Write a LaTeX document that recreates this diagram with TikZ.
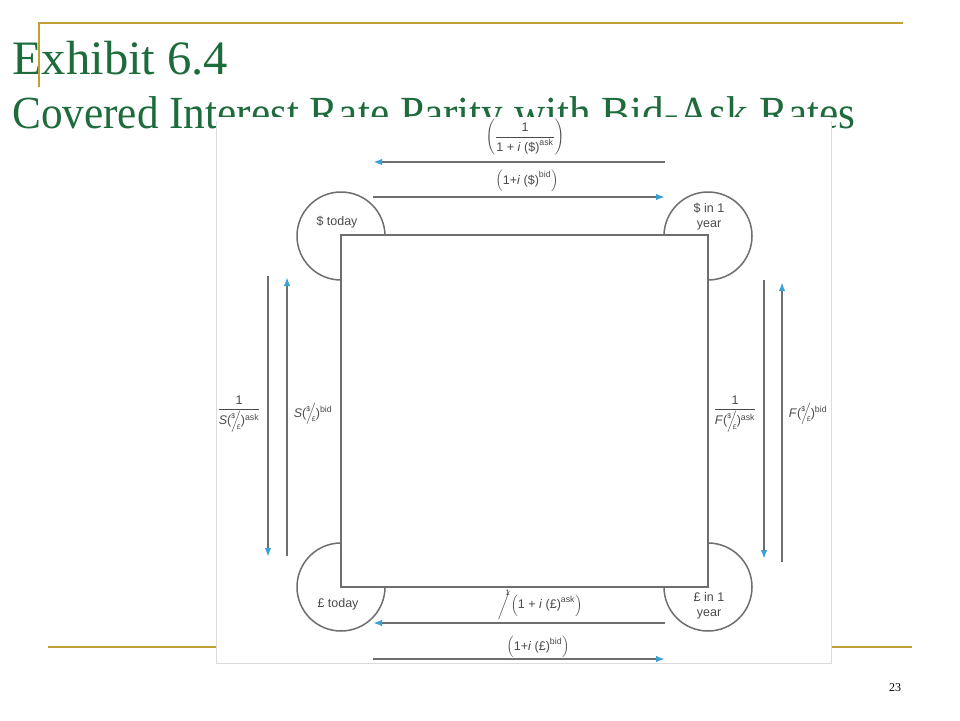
\documentclass[tikz,border=0pt]{standalone}
\usepackage{fontspec}
\usepackage{amsmath}
\usepackage{graphicx}
\setmainfont{Liberation Sans}
\newfontfamily\titlefont{Liberation Serif}
\usetikzlibrary{arrows.meta}
\definecolor{gold}{HTML}{C0A032}
\definecolor{titlegreen}{HTML}{1E6B3C}
\definecolor{linegray}{HTML}{6E6E6E}
\definecolor{arrowblue}{HTML}{3AA0D8}
\definecolor{txtgray}{HTML}{4A4A4A}
\newcommand{\slfr}[2]{\raisebox{0.9ex}{\scriptsize #1}\kern-0.32em$\Big/$\kern-0.32em\raisebox{-0.7ex}{\scriptsize #2}}
\begin{document}
\begin{tikzpicture}[x=1pt,y=-1pt,
  lab/.style={text=txtgray, inner sep=0pt, font=\fontsize{12.5}{15}\selectfont},
  conn/.style={draw=linegray, line width=1.8pt, -{Latex[length=9pt,width=6.5pt,color=arrowblue]}},
  shapeline/.style={draw=linegray, line width=1.5pt},
  goldline/.style={draw=gold, line width=2pt},
  titletext/.style={text=titlegreen, inner sep=0pt, anchor=base west}]
\useasboundingbox (0,0) rectangle (960,720);
\fill[white] (0,0) rectangle (960,720);
% title
\node[titletext] (title1) at (12,74) {\resizebox{216pt}{\height}{\titlefont\fontsize{48}{50}\selectfont Exhibit 6.4}};
\node[titletext] (title2) at (12,128) {\resizebox{843pt}{\height}{\titlefont\fontsize{46}{50}\selectfont Covered Interest Rate Parity with Bid-Ask Rates}};
% slide decorations
\draw[goldline] (38,23) -- (903,23);
\draw[goldline] (39,23) -- (39,87);
\draw[goldline] (48,647) -- (912,647);
\node[inner sep=0pt, font=\titlefont\fontsize{12}{14}\selectfont] (pagenum) at (895,688) {23};
% image box
\fill[white] (216,117) rectangle (831,663);
\draw[draw=black!14] (216.5,121) -- (216.5,663) -- (831,663) -- (831,121);
% circles
\node[circle, shapeline, minimum size=88pt, inner sep=0pt] (c1) at (341,236) {};
\node[circle, shapeline, minimum size=88pt, inner sep=0pt] (c2) at (708,236) {};
\node[circle, shapeline, minimum size=88pt, inner sep=0pt] (c3) at (341,587) {};
\node[circle, shapeline, minimum size=88pt, inner sep=0pt] (c4) at (708,587) {};
% square
\node[shapeline, fill=white, minimum width=367pt, minimum height=352pt, inner sep=0pt] (sq) at (524.5,411) {};
% circle texts
\node[lab] (t1) at (337,222) {\$ today};
\node[lab, align=center] (t2) at (709,217) {\$ in 1\\year};
\node[lab] (t3) at (338,604) {£ today};
\node[lab, align=center] (t4) at (709,606) {£ in 1\\year};
% arrow end points
\coordinate (a1s) at (665,162); \coordinate (a1e) at (373,162);
\coordinate (a2s) at (373,197); \coordinate (a2e) at (665,197);
\coordinate (a3s) at (268,276); \coordinate (a3e) at (268,557);
\coordinate (a4s) at (287,556); \coordinate (a4e) at (287,277);
\coordinate (a5s) at (764,280); \coordinate (a5e) at (764,559);
\coordinate (a6s) at (782,562); \coordinate (a6e) at (782,282);
\coordinate (a7s) at (665,623); \coordinate (a7e) at (373,623);
\coordinate (a8s) at (373,659); \coordinate (a8e) at (665,659);
\draw[conn] (a1s) -- (a1e);
\draw[conn] (a2s) -- (a2e);
\draw[conn] (a3s) -- (a3e);
\draw[conn] (a4s) -- (a4e);
\draw[conn] (a5s) -- (a5e);
\draw[conn] (a6s) -- (a6e);
\draw[conn] (a7s) -- (a7e);
\draw[conn] (a8s) -- (a8e);
% labels
\node[lab] (l1) at (525,137) {\color{txtgray}$\left(\dfrac{\text{1}}{\text{1 + \textit{i} (\$)}^{\text{ask}}}\right)$};
\node[lab] (l2) at (527,181) {\color{txtgray}$\left(\text{1+\textit{i} (\$)}^{\text{bid}}\right)$};
\node[lab] (l3) at (239,414) {\color{txtgray}$\dfrac{\text{1}}{\text{\textit{S}(\slfr{\$}{£})\textsuperscript{ask}}}$};
\node[lab] (l4) at (313,414) {\textit{S}(\slfr{\$}{£})\textsuperscript{bid}};
\node[lab] (l5) at (735,414) {\color{txtgray}$\dfrac{\text{1}}{\text{\textit{F}(\slfr{\$}{£})\textsuperscript{ask}}}$};
\node[lab] (l6) at (808,414) {\textit{F}(\slfr{\$}{£})\textsuperscript{bid}};
\node[lab] (l7) at (540,605) {\color{txtgray}$\bigg/$\kern-0.5pt\llap{\raisebox{13pt}{\footnotesize 1}}\kern1pt$\left(\text{1 + \textit{i} (£)}^{\text{ask}}\right)$};
\node[lab] (l8) at (538,647) {\color{txtgray}$\left(\text{1+\textit{i} (£)}^{\text{bid}}\right)$};
\end{tikzpicture}
\end{document}
